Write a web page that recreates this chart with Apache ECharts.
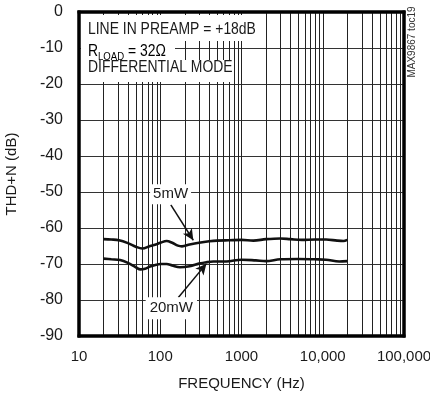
<!DOCTYPE html>
<html><head><meta charset="utf-8">
<script src="https://cdn.jsdelivr.net/npm/echarts@6/dist/echarts.min.js"></script>
<style>html,body{margin:0;padding:0;background:#fff}#c{width:430px;height:397px}</style>
</head><body><div id="c"></div>
<script>
// ---- data ----
const freq5 = [20,25,31,40,50,60,75,90,100,120,140,165,185,230,300,400,500,700,1000,1400,2000,3000,4000,5500,8000,11000,15000,18000,20000];
const thd5  = [-63.1,-63.2,-63.4,-64.2,-65.2,-65.7,-65.0,-64.5,-64.1,-63.6,-64.1,-64.9,-65.1,-64.6,-64.1,-63.7,-63.5,-63.4,-63.3,-63.5,-63.1,-62.9,-63.1,-63.3,-63.2,-63.2,-63.5,-63.6,-63.3];
const freq20 = [20,25,32,40,50,57,65,75,90,100,120,140,175,230,300,370,450,650,1000,1500,2000,3000,5000,8000,11000,16000,20000];
const thd20  = [-68.5,-68.7,-68.9,-69.7,-70.9,-71.5,-71.3,-70.7,-70.2,-70.0,-70.0,-70.4,-70.9,-70.6,-69.9,-69.5,-69.3,-69.3,-68.8,-69.0,-69.2,-68.7,-68.6,-68.7,-68.8,-69.3,-69.2];
const xTicks = [10,100,1000,10000,100000];
const xTickLabels = ['10','100','1000','10,000','100,000'];
const yTicks = [-90,-80,-70,-60,-50,-40,-30,-20,-10,0];
const minorMultipliers = [2,3,4,5,6,7,8,9];
const decades = [10,100,1000,10000];
const seriesNames = ['5mW','20mW'];
const noteLines = ['LINE IN PREAMP = +18dB','R','LOAD',' = 32Ω','DIFFERENTIAL MODE'];
const tocText = 'MAX9867 toc19';

const minorGrid = [];
decades.forEach(d => minorMultipliers.forEach(k => minorGrid.push([k*d, -45])));

const FONT = '"Liberation Sans", Arial, sans-serif';
const NOTE_SX = 0.87;
const INK = '#1a1a1a';
const xMin = xTicks[0], xMax = xTicks[xTicks.length-1];
const yMin = yTicks[0], yMax = yTicks[yTicks.length-1];
const G = {left:79, right:26, top:12, bottom:61};
const W = 430, H = 397, FW = 3;

const chart = echarts.init(document.getElementById('c'), null, {renderer:'canvas'});
chart.setOption({
  animation:false,
  backgroundColor:'#fff',
  textStyle:{fontFamily:FONT},
  grid:{left:G.left,right:G.right,top:G.top,bottom:G.bottom,outerBoundsMode:'none',containLabel:false,
        show:true,borderColor:'#000',borderWidth:FW,backgroundColor:'rgba(0,0,0,0)'},
  xAxis:{
    type:'log', logBase:10, min:xMin, max:xMax,
    name:'FREQUENCY (Hz)', nameLocation:'middle', nameGap:40,
    nameTextStyle:{fontFamily:FONT,fontSize:15,color:INK},
    axisLine:{show:false}, axisTick:{show:false},
    axisLabel:{fontFamily:FONT,fontSize:15,color:INK,margin:13,
      formatter:v=>{const i=xTicks.indexOf(Math.round(v));return i>=0?xTickLabels[i]:'';}},
    splitLine:{show:true,lineStyle:{color:'#222',width:1}}
  },
  yAxis:{
    type:'value', min:yMin, max:yMax, interval:10,
    name:'THD+N (dB)', nameLocation:'middle', nameGap:60, nameRotate:90,
    nameTextStyle:{fontFamily:FONT,fontSize:15,color:INK},
    axisLine:{show:false}, axisTick:{show:false},
    axisLabel:{fontFamily:FONT,fontSize:16,color:INK,margin:16},
    splitLine:{show:true,lineStyle:{color:'#333',width:1}}
  },
  series:[
    {type:'custom', z:1, silent:true, clip:false, data:minorGrid, encode:{x:0,y:1},
     renderItem:(params,api)=>{
       const x=api.value(0);
       const p1=api.coord([x,yMax]);
       const p2=api.coord([x,yMin]);
       return {type:'line',shape:{x1:Math.round(p1[0])+0.5,y1:p1[1],x2:Math.round(p2[0])+0.5,y2:p2[1]},style:{stroke:'#222',lineWidth:1}};
     }},
    {name:seriesNames[0], type:'line', z:5, smooth:0.35, showSymbol:false,
     data:freq5.map((f,i)=>[f,thd5[i]]),
     lineStyle:{color:'#111',width:2.6},
     markLine:{silent:true,symbol:['none','arrow'],symbolSize:[8,11],label:{show:false},
       lineStyle:{color:'#111',width:1.5,type:'solid'},
       data:[[{coord:[135,-53.6]},{coord:[255,-63.4]}]]},
     markPoint:{silent:true,symbol:'rect',symbolSize:1,itemStyle:{color:'rgba(0,0,0,0)'},
       label:{show:true,position:'inside',formatter:seriesNames[0],backgroundColor:'#fff',padding:[3,3,2,3],
         color:INK,fontFamily:FONT,fontSize:15},
       data:[{coord:[134,-50.6]}]}
    },
    {name:seriesNames[1], type:'line', z:5, smooth:0.35, showSymbol:false,
     data:freq20.map((f,i)=>[f,thd20[i]]),
     lineStyle:{color:'#111',width:2.6},
     markLine:{silent:true,symbol:['none','arrow'],symbolSize:[8,11],label:{show:false},
       lineStyle:{color:'#111',width:1.5,type:'solid'},
       data:[[{coord:[167,-79.3]},{coord:[370,-69.9]}]]},
     markPoint:{silent:true,symbol:'rect',symbolSize:1,itemStyle:{color:'rgba(0,0,0,0)'},
       label:{show:true,position:'inside',formatter:seriesNames[1],backgroundColor:'#fff',padding:[4,4,3,4],
         color:INK,fontFamily:FONT,fontSize:15},
       data:[{coord:[137,-82.3]}]}
    }
  ],
  graphic:[
    {id:'b1',type:'rect',z:10,shape:{x:81,y:15,width:177,height:26},style:{fill:'#fff'}},
    {id:'b2',type:'rect',z:10,shape:{x:81,y:41,width:94,height:19},style:{fill:'#fff'}},
    {id:'b3',type:'rect',z:10,shape:{x:81,y:60,width:152,height:22},style:{fill:'#fff'}},
    {id:'t1',type:'text',z:11,x:88,y:30,scaleX:NOTE_SX,style:{text:noteLines[0],fontFamily:FONT,fontSize:16,fill:INK,verticalAlign:'middle'}},
    {id:'t2',type:'text',z:11,x:88,y:44,scaleX:NOTE_SX,style:{
      text:'{a|'+noteLines[1]+'}{s|'+noteLines[2]+'}{a|'+noteLines[3]+'}',
      rich:{a:{fontFamily:FONT,fontSize:16,color:INK,verticalAlign:'top',lineHeight:18},
            s:{fontFamily:FONT,fontSize:11,color:INK,verticalAlign:'top',lineHeight:18,padding:[7,0,0,0]}}}},
    {id:'t3',type:'text',z:11,x:88,y:68,scaleX:NOTE_SX,style:{text:noteLines[4],fontFamily:FONT,fontSize:16,fill:INK,verticalAlign:'middle'}},
    {id:'toc',type:'text',z:11,x:412,y:42,rotation:Math.PI/2,style:{text:tocText,fontFamily:FONT,fontSize:10,fill:'#333',align:'center',verticalAlign:'middle'}},
    {id:'fT',type:'rect',z:50,shape:{x:G.left-FW/2,y:G.top-FW/2,width:W-G.left-G.right+FW,height:FW},style:{fill:'#000'}},
    {id:'fB',type:'rect',z:50,shape:{x:G.left-FW/2,y:H-G.bottom-FW/2,width:W-G.left-G.right+FW,height:FW},style:{fill:'#000'}},
    {id:'fL',type:'rect',z:50,shape:{x:G.left-FW/2,y:G.top-FW/2,width:FW,height:H-G.top-G.bottom+FW},style:{fill:'#000'}},
    {id:'fR',type:'rect',z:50,shape:{x:W-G.right-FW/2,y:G.top-FW/2,width:FW,height:H-G.top-G.bottom+FW},style:{fill:'#000'}}
  ]
});
</script></body></html>
